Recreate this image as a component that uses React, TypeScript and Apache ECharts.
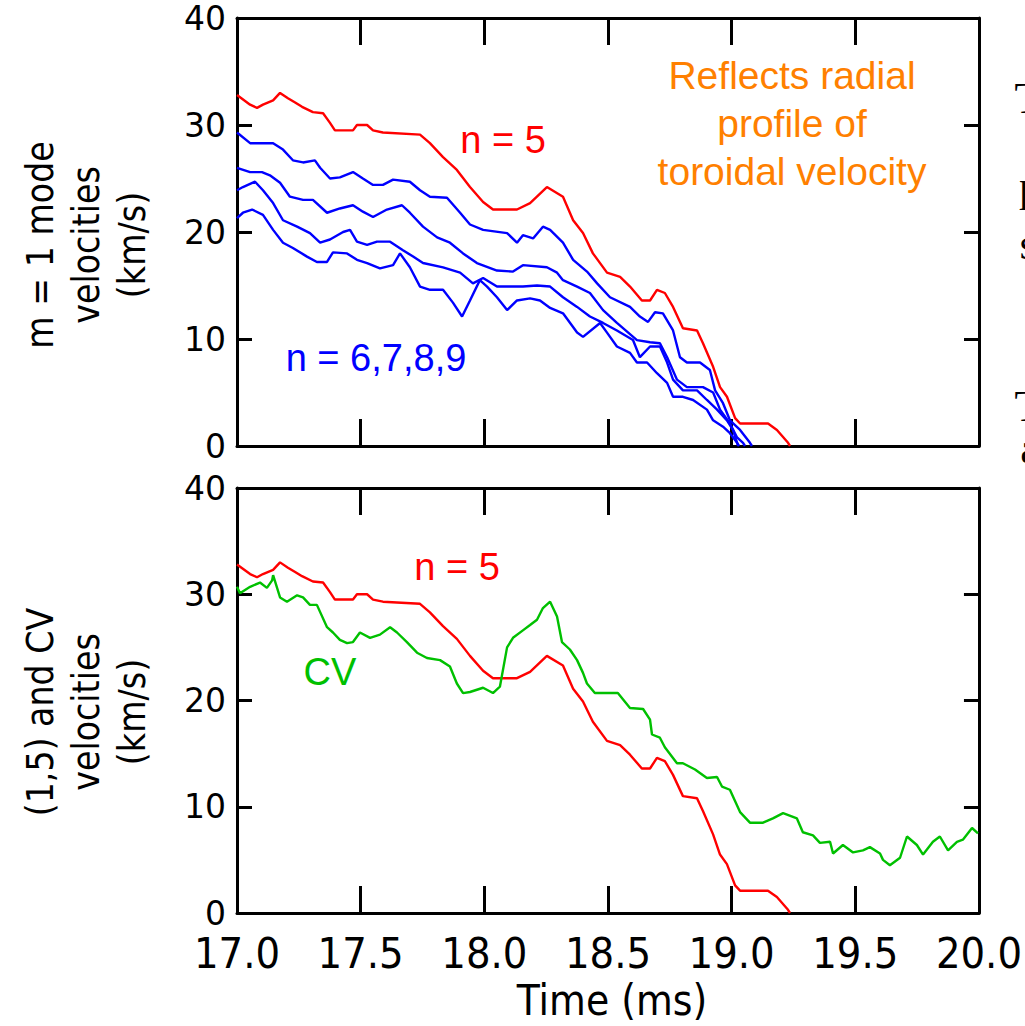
import React, { useEffect, useRef } from "react";
import * as echarts from "echarts";

// ---------- data ----------
const xTickLabels = ["17.0", "17.5", "18.0", "18.5", "19.0", "19.5", "20.0"];
const yTickLabels = ["0", "10", "20", "30", "40"];

// (1,5) mode, n = 5
const n5Time = [17.0, 17.053, 17.081, 17.105, 17.146, 17.174, 17.206, 17.235, 17.263, 17.307, 17.348, 17.376, 17.396, 17.469, 17.485, 17.526, 17.55, 17.59, 17.74, 17.78, 17.833, 17.889, 17.942, 17.995, 18.035, 18.132, 18.185, 18.253, 18.318, 18.359, 18.399, 18.439, 18.496, 18.549, 18.589, 18.637, 18.67, 18.698, 18.73, 18.763, 18.803, 18.86, 18.884, 18.925, 18.953, 18.981, 19.014, 19.034, 19.147, 19.183, 19.228, 19.236];
const n5Vel = [32.8, 31.9, 31.6, 31.9, 32.3, 33.0, 32.5, 32.1, 31.7, 31.2, 31.1, 30.2, 29.5, 29.5, 30.0, 30.0, 29.5, 29.3, 29.1, 28.3, 27.0, 25.8, 24.2, 22.8, 22.1, 22.1, 22.7, 24.2, 23.3, 21.1, 19.9, 18.0, 16.2, 15.8, 14.9, 13.6, 13.6, 14.6, 14.3, 13.0, 11.0, 10.8, 9.6, 7.4, 5.5, 4.6, 2.6, 2.1, 2.1, 1.5, 0.3, 0];

// n = 6
const n6Time = [17.0, 17.053, 17.146, 17.186, 17.226, 17.267, 17.315, 17.336, 17.376, 17.416, 17.469, 17.509, 17.55, 17.59, 17.631, 17.699, 17.74, 17.78, 17.849, 17.902, 17.942, 17.995, 18.092, 18.132, 18.156, 18.197, 18.237, 18.266, 18.318, 18.359, 18.415, 18.456, 18.508, 18.589, 18.629, 18.662, 18.69, 18.722, 18.763, 18.791, 18.819, 18.872, 18.912, 18.933, 18.965, 18.993, 19.034, 19.074, 19.082];
const n6Vel = [29.3, 28.3, 28.3, 27.7, 26.7, 26.5, 26.7, 26.0, 25.0, 25.1, 25.6, 25.0, 24.4, 24.4, 24.9, 24.7, 23.9, 23.3, 23.2, 21.8, 20.7, 20.2, 19.9, 19.0, 19.7, 19.4, 20.5, 20.2, 19.0, 17.4, 16.3, 15.2, 13.9, 13.0, 12.1, 11.6, 12.5, 12.4, 10.8, 8.3, 7.8, 7.8, 7.1, 5.2, 4.0, 2.4, 1.5, 0.3, 0];

// n = 7
const n7Time = [17.0, 17.053, 17.101, 17.133, 17.174, 17.214, 17.267, 17.307, 17.364, 17.416, 17.469, 17.509, 17.55, 17.606, 17.667, 17.699, 17.752, 17.809, 17.861, 17.914, 17.97, 18.051, 18.116, 18.156, 18.253, 18.294, 18.318, 18.375, 18.427, 18.48, 18.536, 18.617, 18.67, 18.71, 18.739, 18.779, 18.819, 18.884, 18.925, 18.953, 18.993, 19.022, 19.046, 19.054];
const n7Vel = [26.0, 25.6, 25.6, 25.3, 24.6, 23.3, 23.0, 23.0, 21.8, 22.2, 22.5, 21.9, 21.4, 22.1, 22.5, 21.8, 20.5, 19.5, 19.0, 18.0, 17.1, 16.4, 16.3, 16.9, 16.7, 16.2, 15.5, 14.9, 14.3, 12.7, 11.5, 9.9, 9.7, 9.6, 8.3, 6.2, 5.5, 5.5, 5.0, 3.4, 2.1, 0.8, 0.3, 0];

// n = 8
const n8Time = [17.0, 17.024, 17.073, 17.105, 17.146, 17.186, 17.243, 17.295, 17.336, 17.376, 17.429, 17.457, 17.485, 17.526, 17.566, 17.619, 17.671, 17.712, 17.752, 17.833, 17.902, 17.954, 17.995, 18.051, 18.156, 18.213, 18.266, 18.318, 18.375, 18.427, 18.48, 18.536, 18.601, 18.629, 18.67, 18.71, 18.739, 18.763, 18.803, 18.86, 18.9, 18.941, 18.981, 19.005, 19.022, 19.026];
const n8Vel = [23.9, 24.2, 24.7, 23.9, 22.7, 21.1, 20.5, 19.9, 19.0, 19.3, 20.0, 20.2, 19.1, 18.8, 19.1, 19.1, 18.3, 17.7, 17.1, 16.7, 16.2, 15.2, 15.7, 14.9, 14.9, 15.0, 14.9, 13.9, 13.0, 12.1, 11.5, 10.8, 9.9, 8.3, 9.3, 9.3, 7.8, 6.2, 5.2, 5.2, 4.3, 3.4, 2.4, 1.5, 0.3, 0];

// n = 9
const n9Time = [17.0, 17.024, 17.061, 17.105, 17.146, 17.186, 17.226, 17.283, 17.323, 17.364, 17.388, 17.445, 17.485, 17.526, 17.578, 17.631, 17.659, 17.699, 17.74, 17.78, 17.833, 17.873, 17.91, 17.942, 17.982, 18.011, 18.051, 18.092, 18.132, 18.185, 18.225, 18.266, 18.318, 18.375, 18.399, 18.468, 18.496, 18.536, 18.589, 18.617, 18.658, 18.698, 18.739, 18.763, 18.803, 18.844, 18.9, 18.925, 18.965, 18.993, 19.022, 19.03];
const n9Vel = [21.3, 21.8, 22.1, 21.6, 20.2, 19.0, 18.5, 17.7, 17.2, 17.2, 18.1, 18.0, 17.4, 17.1, 16.6, 16.9, 18.0, 16.7, 14.9, 14.6, 14.6, 13.4, 12.1, 13.6, 15.5, 14.9, 13.9, 12.7, 13.6, 13.8, 13.6, 12.9, 12.4, 10.6, 10.2, 11.5, 10.6, 9.3, 8.7, 7.8, 7.8, 6.8, 5.9, 4.6, 4.6, 4.3, 3.4, 2.4, 1.8, 1.2, 0.3, 0];

// CV
const cvTime = [17.0, 17.012, 17.053, 17.093, 17.121, 17.142, 17.146, 17.174, 17.202, 17.243, 17.267, 17.295, 17.323, 17.364, 17.388, 17.416, 17.445, 17.469, 17.497, 17.538, 17.578, 17.619, 17.647, 17.687, 17.728, 17.768, 17.821, 17.861, 17.889, 17.914, 17.942, 17.995, 18.035, 18.063, 18.092, 18.116, 18.156, 18.185, 18.213, 18.237, 18.266, 18.294, 18.314, 18.346, 18.375, 18.399, 18.415, 18.447, 18.496, 18.54, 18.589, 18.642, 18.67, 18.678, 18.71, 18.73, 18.779, 18.803, 18.852, 18.9, 18.941, 18.961, 18.993, 19.034, 19.074, 19.127, 19.167, 19.208, 19.264, 19.288, 19.329, 19.357, 19.398, 19.41, 19.45, 19.491, 19.531, 19.559, 19.6, 19.612, 19.64, 19.681, 19.709, 19.749, 19.774, 19.814, 19.842, 19.875, 19.911, 19.935, 19.972, 19.996];
const cvVel = [30.7, 30.1, 30.7, 31.1, 30.6, 31.3, 31.8, 29.7, 29.3, 29.9, 29.7, 29.0, 29.0, 26.9, 26.4, 25.7, 25.4, 25.5, 26.4, 25.9, 26.2, 26.9, 26.4, 25.5, 24.5, 24.0, 23.8, 23.2, 21.6, 20.7, 20.8, 21.2, 20.7, 21.3, 25.0, 25.9, 26.6, 27.1, 27.6, 28.7, 29.3, 27.9, 25.5, 24.8, 23.8, 22.6, 21.6, 20.7, 20.7, 20.7, 19.3, 19.2, 18.2, 16.8, 16.5, 15.6, 14.1, 14.1, 13.5, 12.7, 12.8, 11.9, 11.6, 9.5, 8.5, 8.5, 8.9, 9.4, 8.9, 7.6, 7.3, 6.6, 6.7, 5.6, 6.4, 5.7, 5.9, 6.2, 5.6, 5.0, 4.5, 5.2, 7.2, 6.4, 5.5, 6.7, 7.2, 5.9, 6.7, 6.9, 8.0, 7.5];

// ---------- styling ----------
const RED = "#ff0000";
const BLUE = "#0000ff";
const GREEN = "#00c000";
const ORANGE = "#ff8000";
const NARROW = "'Liberation Sans Narrow', 'DejaVu Sans Condensed', 'Liberation Sans', sans-serif";
const SANS = "'Liberation Sans', Arial, sans-serif";
const WIDE = "'DejaVu Sans', 'Liberation Sans', sans-serif";
const SERIF = "'Liberation Serif', 'DejaVu Serif', serif";

const zip = (t: number[], v: number[]) => t.map((x, i) => [x, v[i]]);

function xAxisDef(gridIndex: number, position: "top" | "bottom", showLabels: boolean) {
  return {
    type: "value",
    gridIndex,
    position,
    min: 17,
    max: 20,
    interval: 0.5,
    axisLine: { show: true, onZero: false, lineStyle: { color: "#000", width: 3 } },
    axisTick: { show: true, inside: true, length: 27, lineStyle: { color: "#000", width: 3 } },
    axisLabel: {
      show: showLabels,
      margin: 18,
      color: "#000",
      fontSize: 43,
      fontFamily: NARROW,
      formatter: (v: number) => xTickLabels[Math.round((v - 17) / 0.5)] ?? "",
    },
    splitLine: { show: false },
  };
}

function yAxisDef(gridIndex: number, position: "left" | "right", showLabels: boolean) {
  return {
    type: "value",
    gridIndex,
    position,
    min: 0,
    max: 40,
    interval: 10,
    axisLine: { show: true, onZero: false, lineStyle: { color: "#000", width: 3 } },
    axisTick: { show: true, inside: true, length: 15, lineStyle: { color: "#000", width: 3 } },
    axisLabel: {
      show: showLabels,
      margin: 11,
      color: "#000",
      fontSize: 33,
      fontFamily: WIDE,
      formatter: (v: number) => yTickLabels[Math.round(v / 10)] ?? "",
    },
    splitLine: { show: false },
  };
}

function lineSeries(name: string, xi: number, yi: number, t: number[], v: number[], color: string) {
  return {
    name,
    type: "line",
    xAxisIndex: xi,
    yAxisIndex: yi,
    data: zip(t, v),
    showSymbol: false,
    symbol: "none",
    lineStyle: { color, width: 2.4 },
    itemStyle: { color },
    z: 3,
  };
}

function txt(text: string, x: number, y: number, color: string, fontSize: number, fontFamily = SANS, extra: any = {}) {
  return {
    type: "text",
    x,
    y,
    silent: true,
    ...extra,
    style: {
      text,
      fill: color,
      fontSize,
      fontFamily,
      align: "center",
      verticalAlign: "middle",
      ...(extra.style || {}),
    },
  };
}

export default function App() {
  const ref = useRef<HTMLDivElement>(null);

  useEffect(() => {
    document.body.style.margin = "0";
    document.body.style.overflow = "hidden";
    if (!ref.current) return;
    const chart = echarts.init(ref.current, undefined, { renderer: "svg" });
    chart.setOption({
      animation: false,
      backgroundColor: "#fff",
      grid: [
        { left: 237, top: 18, width: 742, height: 428 },
        { left: 237, top: 488, width: 742, height: 425 },
      ],
      xAxis: [
        xAxisDef(0, "bottom", false),
        xAxisDef(0, "top", false),
        xAxisDef(1, "bottom", true),
        xAxisDef(1, "top", false),
      ],
      yAxis: [
        yAxisDef(0, "left", true),
        yAxisDef(0, "right", false),
        yAxisDef(1, "left", true),
        yAxisDef(1, "right", false),
      ],
      series: [
        lineSeries("n = 5", 0, 0, n5Time, n5Vel, RED),
        lineSeries("n = 6", 0, 0, n6Time, n6Vel, BLUE),
        lineSeries("n = 7", 0, 0, n7Time, n7Vel, BLUE),
        lineSeries("n = 8", 0, 0, n8Time, n8Vel, BLUE),
        lineSeries("n = 9", 0, 0, n9Time, n9Vel, BLUE),
        lineSeries("n = 5 (bottom)", 2, 2, n5Time, n5Vel, RED),
        lineSeries("CV", 2, 2, cvTime, cvVel, GREEN),
      ],
      graphic: [
        txt("m = 1 mode\nvelocities\n(km/s)", 86, 245, "#000", 37, NARROW, { rotation: Math.PI / 2, style: { lineHeight: 46 } }),
        txt("(1,5) and CV\nvelocities\n(km/s)", 86, 712, "#000", 37, NARROW, { rotation: Math.PI / 2, style: { lineHeight: 46 } }),
        txt("Time (ms)", 612, 1000, "#000", 42, NARROW),
        txt("n = 5", 503, 140, RED, 38),
        txt("n = 6,7,8,9", 376, 358, BLUE, 38),
        txt("Reflects radial\nprofile of\ntoroidal velocity", 792, 123, ORANGE, 39, SANS, { style: { lineHeight: 48 } }),
        txt("n = 5", 457, 567, RED, 38),
        txt("CV", 330, 672, GREEN, 38),
        // cut-off fragments of neighbouring slide text at the right edge
        txt("T", 1028, 98, "#000", 44, SERIF),
        txt("p", 1030, 186, "#000", 44, SERIF),
        txt("s", 1028, 244, "#000", 44, SERIF),
        txt("T", 1028, 406, "#000", 44, SERIF),
        txt("a", 1030, 448, "#000", 44, SERIF),
      ],
    });
    return () => chart.dispose();
  }, []);

  return <div ref={ref} style={{ width: 1025, height: 1026 }} />;
}
